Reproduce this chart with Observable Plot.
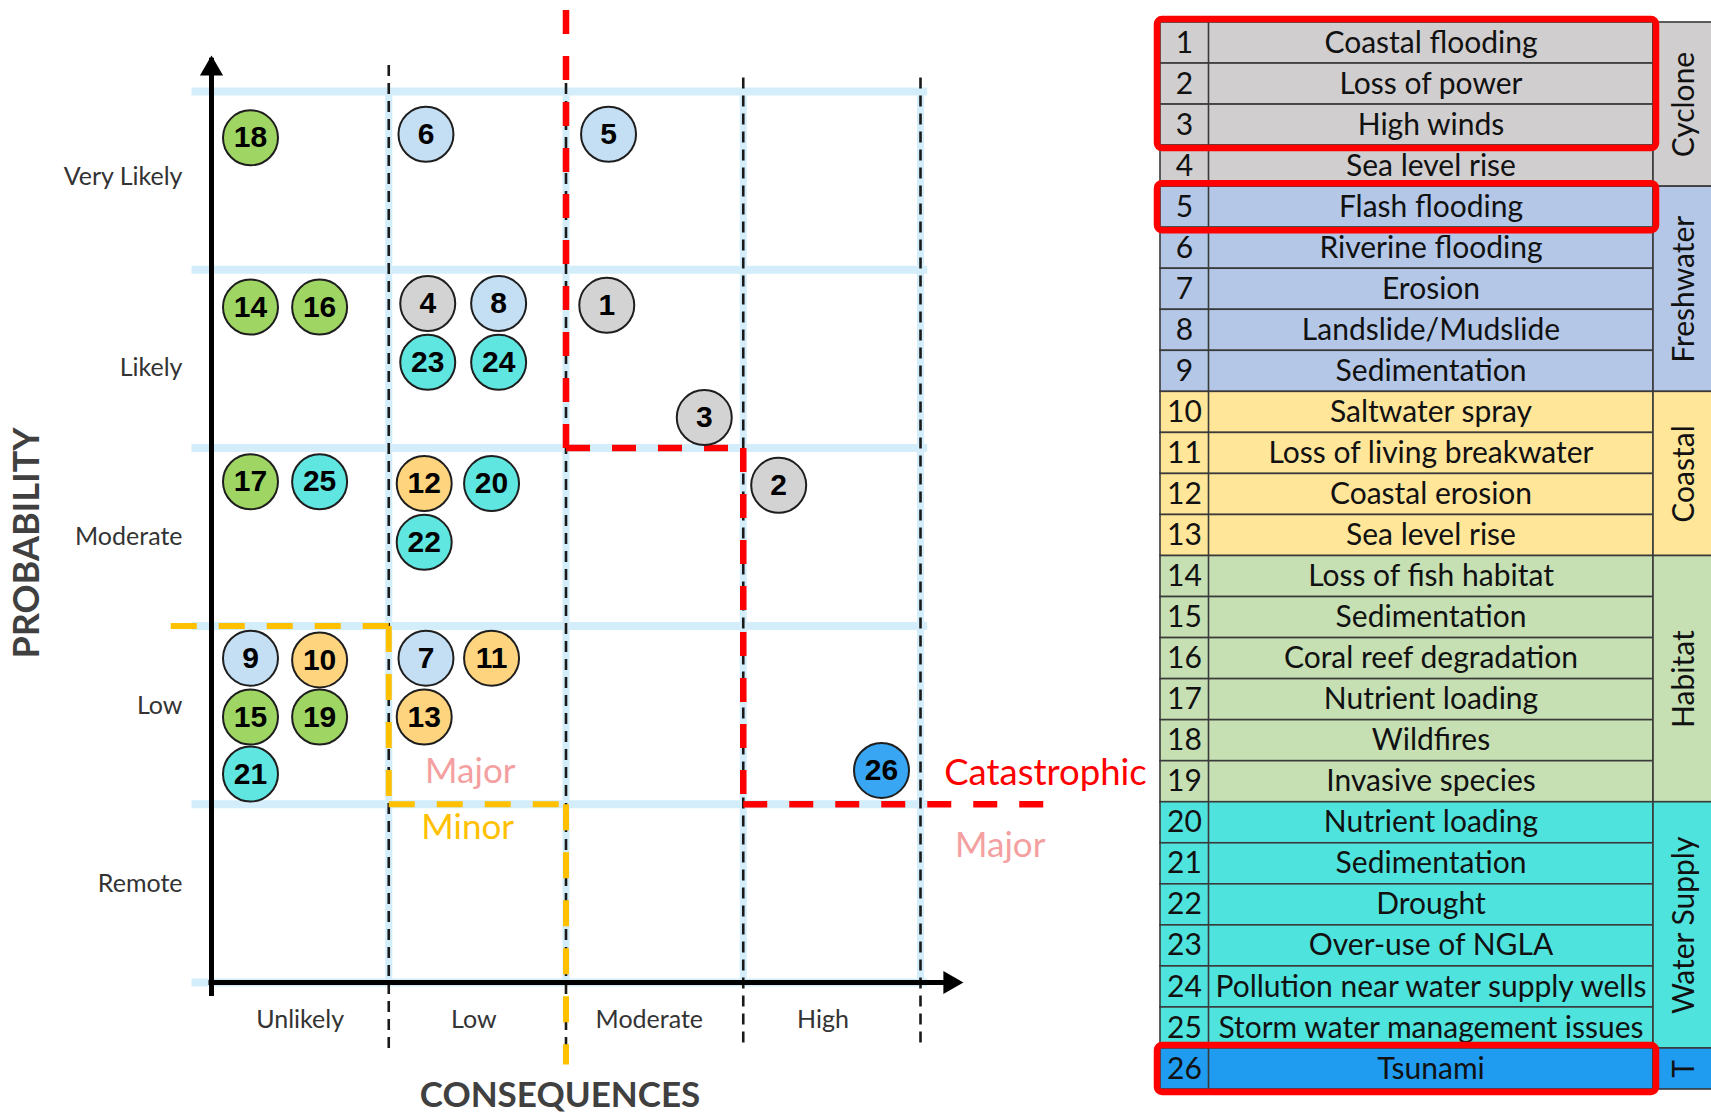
<!DOCTYPE html>
<html><head><meta charset="utf-8">
<script src="https://cdn.jsdelivr.net/npm/d3@7"></script>
<script src="https://cdn.jsdelivr.net/npm/@observablehq/plot@0.6"></script>
<style>
body{margin:0;background:#fff;}
#wrap{position:relative;width:1711px;height:1117px;overflow:hidden;background:#fff;}
#matrix{position:absolute;left:0;top:0;}
#table{position:absolute;left:1150px;top:0;}
</style></head><body><div id="wrap"><div id="matrix"></div><div id="table"></div></div>
<script>
// ---- axis categories ----
const consequenceLabels = ["Unlikely", "Low", "Moderate", "High"];
const consequenceTicks = [0.5, 1.48, 2.47, 3.45];
const probabilityLabels = ["Remote", "Low", "Moderate", "Likely", "Very Likely"];
const probabilityTicks = [0.55, 1.55, 2.5, 3.45, 4.52];

// ---- hazards (table) ----
const hazardIds = [1,2,3,4,5,6,7,8,9,10,11,12,13,14,15,16,17,18,19,20,21,22,23,24,25,26];
const hazardNames = ["Coastal flooding","Loss of power","High winds","Sea level rise","Flash flooding","Riverine flooding","Erosion","Landslide/Mudslide","Sedimentation","Saltwater spray","Loss of living breakwater","Coastal erosion","Sea level rise","Loss of fish habitat","Sedimentation","Coral reef degradation","Nutrient loading","Wildfires","Invasive species","Nutrient loading","Sedimentation","Drought","Over-use of NGLA","Pollution near water supply wells","Storm water management issues","Tsunami"];
const groupNames = ["Cyclone", "Freshwater", "Coastal", "Habitat", "Water Supply", "T"];
const groupFirst = [1, 5, 10, 14, 20, 26];
const groupLast = [4, 9, 13, 19, 25, 26];
const highlightFirst = [1, 5, 26];
const highlightLast = [3, 5, 26];

// ---- risk placement in matrix (consequence, probability) per hazard id 1..26 ----
const riskConsequence = [2.23,3.20,2.78,1.22,2.24,1.21,1.21,1.62,0.22,0.61,1.58,1.20,1.20,0.22,0.22,0.61,0.22,0.22,0.61,1.58,0.22,1.20,1.22,1.62,0.61,3.78];
const riskProbability = [3.80,2.79,3.17,3.81,4.76,4.76,1.82,3.81,1.82,1.81,1.82,2.80,1.49,3.79,1.49,3.79,2.81,4.74,1.49,2.80,1.17,2.47,3.48,3.48,2.81,1.19];

// ---- threshold lines (segments, each drawn from its corner outwards) ----
const catastrophicX1 = [2, 2, 3, 3];
const catastrophicY1 = [3, 3, 3, 1];
const catastrophicX2 = [2, 3, 3, 4.71];
const catastrophicY2 = [5.47, 3, 1, 1];
const minorX1 = [1, 1, 1, 2];
const minorY1 = [2, 2, 1, 1];
const minorX2 = [-0.31, 1, 2, 2];
const minorY2 = [2, 1, 1, -0.46];
const zoneText = ["Major", "Minor", "Catastrophic", "Major"];
const zoneX = [1.46, 1.445, 4.705, 4.45];
const zoneY = [1.18, 0.87, 1.175, 0.765];
const zoneKind = ["major", "minor", "catastrophic", "major"];

// ---- grid ----
const gridLevels = [0, 1, 2, 3, 4, 5];
const dividerX = [1, 2, 3, 4];
const dividerBottom = [-0.37, -0.37, -0.34, -0.34];
const dividerTop = [5.17, 5.1, 5.11, 5.11];
const yAxisTop = 5.2;
const xAxisEnd = 4.24;

// ---- colours ----
const bubbleColors = ["#d3d3d3", "#c4dff4", "#ffd47e", "#9fd563", "#5fe6e0", "#38a6f2"];
const tableColors = ["#d0cece", "#b4c7e7", "#ffe699", "#c6e0b4", "#4fe3dd", "#1f9bf0"];
const zoneColors = {major: "#f4a0a0", minor: "#ffc000", catastrophic: "#ff0000"};
const zoneSizes = {major: 35, minor: 35, catastrophic: 36.5};

const groupOf = id => groupNames[groupFirst.findIndex((f, i) => id >= f && id <= groupLast[i])];
const risks = hazardIds.map((id, i) => ({id, c: riskConsequence[i], p: riskProbability[i], group: groupOf(id)}));
const catSegs = catastrophicX1.map((x1, i) => ({x1, y1: catastrophicY1[i], x2: catastrophicX2[i], y2: catastrophicY2[i]}));
const minorSegs = minorX1.map((x1, i) => ({x1, y1: minorY1[i], x2: minorX2[i], y2: minorY2[i]}));
const zones = zoneText.map((t, i) => ({t, x: zoneX[i], y: zoneY[i], k: zoneKind[i]}));
const dividers = dividerX.map((x, i) => ({x, y1: dividerBottom[i], y2: dividerTop[i]}));

const gridBlue = "#d3eefa";
const zoneMarks = Object.keys(zoneSizes).map(k =>
  Plot.text(zones.filter(d => d.k === k), {x: "x", y: "y", text: "t", fill: zoneColors[k], fontSize: zoneSizes[k]}));

const matrix = Plot.plot({
  width: 1150, height: 1117,
  marginLeft: 211, marginRight: 230, marginTop: 91, marginBottom: 135,
  x: {domain: [0, 4]},
  y: {domain: [0, 5]},
  color: {domain: groupNames, range: bubbleColors},
  style: {fontFamily: "Lato, sans-serif", background: "white"},
  marks: [
    Plot.ruleY(gridLevels, {x1: -0.11, x2: 4.04, stroke: gridBlue, strokeWidth: 8}),
    Plot.ruleX(dividerX, {y1: 0, y2: 5, stroke: gridBlue, strokeWidth: 7}),
    Plot.ruleX(dividers, {x: "x", y1: "y1", y2: "y2", stroke: "#1a1a1a", strokeWidth: 2.6, strokeDasharray: "11,7"}),
    Plot.link(minorSegs, {x1: "x1", y1: "y1", x2: "x2", y2: "y2", stroke: "#ffc000", strokeWidth: 6, strokeDasharray: "26,22"}),
    Plot.link(catSegs, {x1: "x1", y1: "y1", x2: "x2", y2: "y2", stroke: "#ff0000", strokeWidth: 6.5, strokeDasharray: "24,22"}),
    Plot.ruleX([0], {y1: 0, y2: yAxisTop, insetTop: 14, insetBottom: -2.5, stroke: "#000", strokeWidth: 5}),
    Plot.ruleY([0], {x1: 0, x2: xAxisEnd, insetRight: 14, insetLeft: -2.5, stroke: "#000", strokeWidth: 5}),
    Plot.dot([0], {x: 0, y: yAxisTop, symbol: "triangle", r: 8.6, fill: "#000", dy: 13}),
    Plot.dot([0], {x: xAxisEnd, y: 0, symbol: "triangle", r: 8.6, fill: "#000", rotate: 90, dx: -13}),
    Plot.axisY({ticks: probabilityTicks, tickFormat: d => probabilityLabels[probabilityTicks.indexOf(d)], tickSize: 0, tickPadding: 29, fontSize: 25, fill: "#333", label: null}),
    Plot.axisX({ticks: consequenceTicks, tickFormat: d => consequenceLabels[consequenceTicks.indexOf(d)], tickSize: 0, tickPadding: 28, fontSize: 25, fill: "#333", label: null}),
    Plot.text(["PROBABILITY"], {frameAnchor: "left", dx: -184, dy: 6, rotate: -90, textAnchor: "middle", lineAnchor: "middle", fontSize: 36, fontWeight: "bold", fill: "#404040"}),
    Plot.text(["CONSEQUENCES"], {frameAnchor: "bottom", dx: -6, dy: 113, textAnchor: "middle", lineAnchor: "middle", fontSize: 35, fontWeight: "bold", fill: "#404040"}),
    ...zoneMarks,
    Plot.dot(risks, {x: "c", y: "p", r: 27.5, fill: "group", stroke: "#1e1e1e", strokeWidth: 2}),
    Plot.text(risks, {x: "c", y: "p", text: "id", fontSize: 30, fontWeight: "bold", fontFamily: "'Liberation Sans Narrow', 'Liberation Sans', Arial, sans-serif", fill: "#000"})
  ]
});
document.getElementById("matrix").append(matrix);

// ---- table ----
const numEdge = 48, labelEdge = 493, groupEdge = 551;
const rows = hazardIds.map((id, i) => ({id, name: hazardNames[i], group: groupOf(id)}));
const groups = groupNames.map((g, i) => ({g, first: groupFirst[i], last: groupLast[i]}));
const highlights = highlightFirst.map((f, i) => ({first: f, last: highlightLast[i]}));
const table = Plot.plot({
  width: 561, height: 1117,
  marginLeft: 10, marginRight: 0, marginTop: 22, marginBottom: 28,
  x: {domain: [0, 551], axis: null},
  y: {domain: [0, 26], reverse: true, axis: null},
  color: {domain: groupNames, range: tableColors},
  style: {fontFamily: "Lato, sans-serif", background: "transparent"},
  marks: [
    Plot.rect(rows, {x1: 0, x2: labelEdge, y1: d => d.id - 1, y2: "id", fill: "group", stroke: "#3a3a3a", strokeWidth: 1.6}),
    Plot.ruleX([numEdge], {y1: 0, y2: 26, stroke: "#3a3a3a", strokeWidth: 1.6}),
    Plot.rect(groups, {x1: labelEdge, x2: groupEdge + 20, y1: d => d.first - 1, y2: "last", fill: "g", stroke: "#3a3a3a", strokeWidth: 1.6}),
    Plot.text(rows, {x: numEdge / 2, y: d => d.id - 0.5, text: "id", fontSize: 30, fill: "#111"}),
    Plot.text(rows, {x: (numEdge + labelEdge) / 2, y: d => d.id - 0.5, text: "name", fontSize: 30, fill: "#111"}),
    Plot.text(groups, {x: (labelEdge + groupEdge) / 2 + 2, y: d => (d.first - 1 + d.last) / 2, text: "g", rotate: -90, fontSize: 30, fill: "#111"}),
    Plot.rect(highlights, {x1: 0, x2: labelEdge, y1: d => d.first - 1, y2: "last", inset: -3, fill: "none", stroke: "#ff0000", strokeWidth: 6.5, rx: 5})
  ]
});
document.getElementById("table").append(table);
</script></body></html>
